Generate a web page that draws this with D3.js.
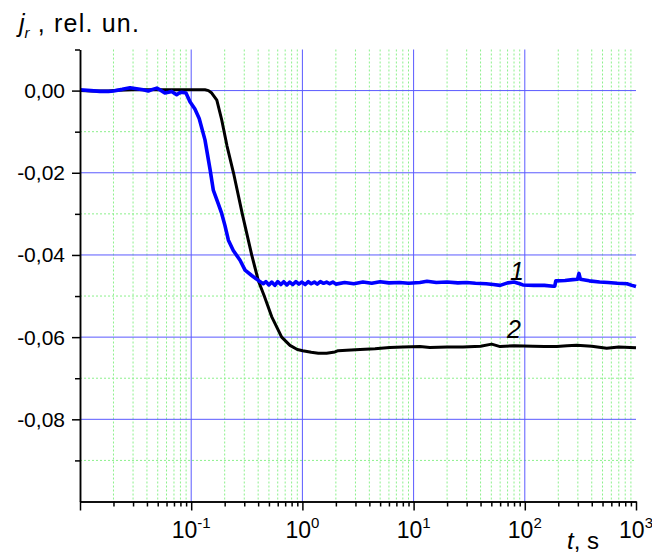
<!DOCTYPE html>
<html>
<head>
<meta charset="utf-8">
<script src="https://cdn.jsdelivr.net/npm/d3@7"></script>
<style>
  body { margin: 0; background: #fff; }
  svg text { font-family: "Liberation Sans", Arial, sans-serif; }
</style>
</head>
<body>
<div id="chart"></div>
<script>
"use strict";

// curve 1 (blue)
var tBlue = [0.01, 0.0125, 0.0151, 0.018, 0.02, 0.024, 0.0282, 0.0334, 0.037,
    0.0411, 0.045, 0.049, 0.053, 0.058, 0.0625, 0.0667, 0.074, 0.078, 0.082,
    0.0898, 0.0975, 0.108, 0.118, 0.133, 0.148, 0.158, 0.175, 0.188, 0.201,
    0.216, 0.239, 0.275, 0.305, 0.35, 0.401, 0.445, 0.47, 0.5, 0.53, 0.565,
    0.6, 0.64, 0.68, 0.725, 0.77, 0.82, 0.875, 0.93, 0.99, 1.06, 1.13, 1.2,
    1.28, 1.36, 1.45, 1.55, 1.65, 1.76, 1.88, 2.0, 2.4, 2.9, 3.5, 4.2, 5.0,
    6.0, 7.5, 9.0, 11.4, 13.2, 16, 20, 25, 30, 36, 45, 52, 60, 70, 80, 90, 96,
    120, 150, 180, 186, 190, 230, 270, 298, 307, 316, 380, 470, 560, 680, 830,
    920, 1000];
var jBlue = [0.0002, 0.0000, -0.0002, -0.0002, -0.0001, 0.0003, 0.0007, 0.0004,
    0.0002, -0.0001, 0.0003, 0.0006, 0.0001, -0.0006, -0.0004, -0.0002, -0.0010,
    -0.0006, -0.0004, -0.0006, -0.0027, -0.0045, -0.0068, -0.0120, -0.0193,
    -0.0242, -0.0275, -0.0299, -0.0328, -0.0364, -0.0389, -0.0413, -0.0437,
    -0.0450, -0.0462, -0.0470, -0.0465, -0.0473, -0.0466, -0.0474, -0.0465,
    -0.0472, -0.0465, -0.0473, -0.0466, -0.0472, -0.0465, -0.0471, -0.0466,
    -0.0472, -0.0465, -0.0470, -0.0466, -0.0471, -0.0465, -0.0469, -0.0466,
    -0.0470, -0.0466, -0.0471, -0.0467, -0.0470, -0.0466, -0.0469, -0.0465,
    -0.0468, -0.0467, -0.0469, -0.0467, -0.0464, -0.0467, -0.0466, -0.0468,
    -0.0467, -0.0469, -0.0470, -0.0472, -0.0474, -0.0468, -0.0466, -0.0470,
    -0.0473, -0.0474, -0.0474, -0.0476, -0.0476, -0.0463, -0.0462, -0.0460,
    -0.0459, -0.0445, -0.0459, -0.0463, -0.0466, -0.0467, -0.0469, -0.0470,
    -0.0474, -0.0477];

// curve 2 (black)
var tBlack = [0.01, 0.013, 0.018, 0.022, 0.03, 0.05, 0.08, 0.12, 0.133, 0.143,
    0.153, 0.17, 0.188, 0.21, 0.24, 0.288, 0.35, 0.401, 0.454, 0.529, 0.651,
    0.773, 0.9, 1.007, 1.2, 1.39, 1.65, 1.96, 2.1, 2.5, 3.3, 4.5, 6.1, 8.0,
    11.4, 14, 20, 27.8, 40, 50.4, 60, 80, 118, 150, 194, 240, 293, 400, 545,
    700, 1000];
var jBlack = [0.0000, -0.0001, -0.0001, 0.0001, 0.0002, 0.0002, 0.0002, 0.0002,
    0.0002, 0.0000, -0.0006, -0.0023, -0.0071, -0.0135, -0.0200, -0.0300,
    -0.0400, -0.0462, -0.0500, -0.0550, -0.0600, -0.0620, -0.0630, -0.0633,
    -0.0637, -0.0639, -0.0639, -0.0636, -0.0633, -0.0632, -0.0630, -0.0628,
    -0.0625, -0.0624, -0.0623, -0.0625, -0.0624, -0.0624, -0.0622, -0.0617,
    -0.0623, -0.0621, -0.0622, -0.0623, -0.0623, -0.0621, -0.0620, -0.0622,
    -0.0627, -0.0624, -0.0626];

var yMajor = [0, -0.02, -0.04, -0.06, -0.08];
var yMinor = [0.01, -0.01, -0.03, -0.05, -0.07, -0.09];
var xDecades = [-2, -1, 0, 1, 2, 3];
var xLabelExps = ["-1", "0", "1", "2", "3"];
var curveLabels = ["1", "2"];

var W = 652, H = 554;
var margin = {top: 49.5, left: 80, right: 16, bottom: 52.5};
var pw = W - margin.left - margin.right,
    ph = H - margin.top - margin.bottom;

var x = d3.scaleLog().domain([0.01, 1000]).range([0, pw]);
var y = d3.scaleLinear().domain([-0.10, 0.01]).range([ph, 0]);

var xMajor = xDecades.map(function (e) { return Math.pow(10, e); });
var xMinor = [];
xDecades.slice(0, -1).forEach(function (e) {
    d3.range(2, 10).forEach(function (k) {
        xMinor.push(k * Math.pow(10, e)); });
});

var svg = d3.select("#chart").append("svg")
    .attr("width", W).attr("height", H);
var g = svg.append("g")
    .attr("transform", "translate(" + margin.left + "," + margin.top + ")");

// grid, minor first (green dotted), then major (blue)
var grid = g.append("g");
grid.selectAll("line.vmin").data(xMinor).enter().append("line")
    .attr("x1", x).attr("x2", x).attr("y1", 0).attr("y2", ph)
    .attr("stroke", "#8cf08c").attr("stroke-width", 1)
    .attr("stroke-dasharray", "2,2");
grid.selectAll("line.hmin").data(yMinor.slice(1)).enter().append("line")
    .attr("x1", 0).attr("x2", pw).attr("y1", y).attr("y2", y)
    .attr("stroke", "#8cf08c").attr("stroke-width", 1)
    .attr("stroke-dasharray", "2,2");
grid.selectAll("line.vmaj").data(xMajor.slice(1, -1)).enter().append("line")
    .attr("x1", x).attr("x2", x).attr("y1", 0).attr("y2", ph)
    .attr("stroke", "#5a5aff").attr("stroke-width", 1);
grid.selectAll("line.hmaj").data(yMajor).enter().append("line")
    .attr("x1", 0).attr("x2", pw).attr("y1", y).attr("y2", y)
    .attr("stroke", "#5a5aff").attr("stroke-width", 1);

// curves
var line = d3.line()
    .x(function (d) { return x(d[0]); })
    .y(function (d) { return y(d[1]); });

g.append("path")
    .datum(d3.zip(tBlack, jBlack))
    .attr("d", line)
    .attr("fill", "none").attr("stroke", "#000")
    .attr("stroke-width", 3).attr("stroke-linejoin", "round");
g.append("path")
    .datum(d3.zip(tBlue, jBlue))
    .attr("d", line)
    .attr("fill", "none").attr("stroke", "#0000ff")
    .attr("stroke-width", 3.6).attr("stroke-linejoin", "round");

// axes
function styleAxis(sel) {
    sel.select(".domain").attr("stroke", "#000").attr("stroke-width", 1.5);
    sel.selectAll(".tick line").attr("stroke", "#000").attr("stroke-width", 1.5);
}

g.append("g").attr("transform", "translate(0," + ph + ")")
    .call(d3.axisBottom(x).tickValues(xMinor).tickSize(5)
          .tickSizeOuter(0).tickFormat(""))
    .call(styleAxis);
g.append("g").attr("transform", "translate(0," + ph + ")")
    .call(d3.axisBottom(x).tickValues(xMajor).tickSize(9)
          .tickSizeOuter(0).tickFormat(""))
    .call(styleAxis);

g.append("g")
    .call(d3.axisLeft(y).tickValues(yMinor).tickSize(5)
          .tickSizeOuter(0).tickFormat(""))
    .call(styleAxis);
g.append("g")
    .call(d3.axisLeft(y).tickValues(yMajor).tickSize(8)
          .tickSizeOuter(0).tickFormat(""))
    .call(styleAxis);

// y tick labels: comma as decimal separator, plain hyphen minus
var fmt = d3.format(".2f");
g.selectAll("text.ylab").data(yMajor).enter().append("text")
    .attr("x", -15).attr("y", function (d) { return y(d) + 7.5; })
    .attr("text-anchor", "end").attr("font-size", 21).attr("fill", "#000")
    .text(function (d) {
        return fmt(d).replace(".", ",").replace("\u2212", "-"); });

// x tick labels: 10 with superscript exponent
var xl = g.selectAll("text.xlab").data(xLabelExps).enter().append("text")
    .attr("x", function (d) { return x(Math.pow(10, +d)); })
    .attr("y", ph + 36)
    .attr("text-anchor", "middle").attr("font-size", 23).attr("fill", "#000");
xl.append("tspan").text("10");
xl.append("tspan").attr("dy", -10).attr("font-size", 15)
    .text(function (d) { return d; });

// axis titles
var xt = svg.append("text")
    .attr("x", 567).attr("y", 549).attr("font-size", 24).attr("fill", "#000");
xt.append("tspan").attr("font-style", "italic").text("t");
xt.append("tspan").text(", s");

var yt = svg.append("text")
    .attr("x", 19).attr("y", 32).attr("font-size", 25).attr("fill", "#000");
yt.append("tspan").attr("font-style", "italic").text("j");
yt.append("tspan").attr("font-style", "italic").attr("font-size", 15)
    .attr("dy", 6).text("r");
yt.append("tspan").attr("dy", -6).attr("letter-spacing", 1.2)
    .text(" , rel. un.");

// curve numbers
g.selectAll("text.clab").data(curveLabels).enter().append("text")
    .attr("x", function (d, i) { return x([73.6, 69.2][i]); })
    .attr("y", function (d, i) { return y([-0.0462, -0.0603][i]); })
    .attr("font-size", 25).attr("font-style", "italic").attr("fill", "#000")
    .text(function (d) { return d; });
</script>
</body>
</html>
